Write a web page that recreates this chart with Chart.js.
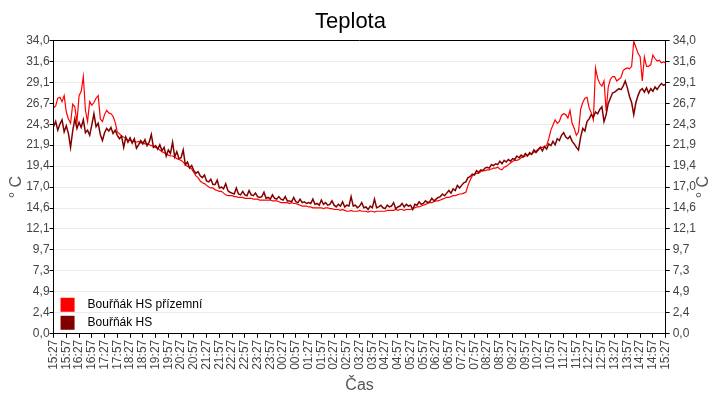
<!DOCTYPE html>
<html>
<head>
<meta charset="utf-8">
<script src="https://cdn.jsdelivr.net/npm/chart.js@4"></script>
<style>
  html, body { margin: 0; padding: 0; background: #fff; }
  canvas { display: block; }
</style>
</head>
<body>
<canvas id="tempChart" width="720" height="400"></canvas>
<script>
// sample every 5 minutes, starting 15:27
const SAMPLE_MIN = 5;

const xLabels = [
  "15:27", "15:57", "16:27", "16:57", "17:27", "17:57", "18:27", "18:57",
  "19:27", "19:57", "20:27", "20:57", "21:27", "21:57", "22:27", "22:57",
  "23:27", "23:57", "00:27", "00:57", "01:27", "01:57", "02:27", "02:57",
  "03:27", "03:57", "04:27", "04:57", "05:27", "05:57", "06:27", "06:57",
  "07:27", "07:57", "08:27", "08:57", "09:27", "09:57", "10:27", "10:57",
  "11:27", "11:57", "12:27", "12:57", "13:27", "13:57", "14:27", "14:57",
  "15:27",
];

const yLabels = [
  "0,0", "2,4", "4,9", "7,3", "9,7", "12,1", "14,6", "17,0",
  "19,4", "21,9", "24,3", "26,7", "29,1", "31,6", "34,0",
];
const Y_MAX = 34;

// Bouřňák HS přízemní
const groundTemp = [
  26.2, 26.4, 27.3, 27.4, 26.9, 27.6, 25.7, 24.9, 24.4, 26.6, 26.3, 24.5, // 15:27
  27.6, 28.1, 29.8, 25.9, 24.6, 26.9, 26.5, 26.8, 27.3, 27.6, 24.9, 24.6, // 16:27
  25.4, 25.9, 25.6, 25.5, 25.2, 24.5, 23.4, 23.2, 22.9, 22.8, 22.7, 22.4, // 17:27
  22.4, 22.3, 22.3, 22.2, 22.3, 22.1, 22.2, 22.0, 22.0, 21.9, 21.8, 21.7, // 18:27
  21.6, 21.5, 21.3, 21.1, 21.0, 20.8, 20.7, 20.6, 20.6, 20.5, 20.3, 20.2, // 19:27
  20.1, 19.9, 19.6, 19.4, 19.3, 19.1, 18.7, 18.3, 18.1, 17.7, 17.5, 17.4, // 20:27
  17.2, 17.0, 16.9, 16.9, 16.7, 16.6, 16.5, 16.5, 16.3, 16.1, 16.0, 16.0, // 21:27
  16.0, 15.9, 15.9, 15.8, 15.8, 15.8, 15.7, 15.7, 15.7, 15.7, 15.6, 15.6, // 22:27
  15.6, 15.5, 15.5, 15.5, 15.5, 15.5, 15.5, 15.4, 15.4, 15.4, 15.3, 15.2, // 23:27
  15.2, 15.2, 15.2, 15.1, 15.2, 15.1, 15.1, 15.0, 14.9, 14.8, 14.8, 14.8, // 00:27
  14.7, 14.7, 14.6, 14.6, 14.6, 14.6, 14.6, 14.5, 14.6, 14.6, 14.5, 14.5, // 01:27
  14.4, 14.4, 14.4, 14.3, 14.4, 14.3, 14.2, 14.2, 14.3, 14.2, 14.2, 14.2, // 02:27
  14.3, 14.2, 14.2, 14.2, 14.1, 14.2, 14.2, 14.1, 14.2, 14.2, 14.2, 14.2, // 03:27
  14.2, 14.3, 14.3, 14.3, 14.3, 14.4, 14.3, 14.4, 14.4, 14.3, 14.4, 14.4, // 04:27
  14.4, 14.5, 14.6, 14.7, 14.7, 14.8, 14.9, 15.0, 15.1, 15.2, 15.2, 15.3, // 05:27
  15.4, 15.4, 15.5, 15.6, 15.7, 15.8, 15.8, 15.9, 16.0, 16.0, 16.1, 16.2, // 06:27
  16.2, 16.3, 16.4, 17.2, 17.8, 18.3, 18.5, 18.6, 18.6, 18.8, 18.9, 18.9, // 07:27
  19.0, 19.0, 19.1, 19.2, 19.2, 19.3, 19.1, 19.0, 19.3, 19.4, 19.6, 19.8, // 08:27
  20.0, 20.1, 20.1, 20.2, 20.4, 20.5, 20.6, 20.7, 20.8, 20.9, 21.0, 21.2, // 09:27
  21.4, 21.6, 21.6, 21.7, 21.8, 22.6, 23.6, 24.2, 24.8, 24.4, 24.6, 25.3, // 10:27
  25.5, 25.4, 25.0, 25.9, 24.4, 23.8, 23.0, 23.4, 26.0, 26.8, 27.3, 27.4, // 11:27
  26.2, 25.6, 24.8, 30.8, 29.6, 29.0, 28.7, 29.3, 25.8, 28.6, 29.5, 29.8, // 12:27
  29.8, 29.3, 29.5, 29.7, 30.5, 30.7, 30.8, 30.7, 31.0, 33.9, 33.2, 32.5, // 13:27
  32.1, 29.3, 32.1, 31.0, 31.0, 31.2, 32.3, 31.9, 31.6, 31.7, 31.4, 31.5, // 14:27
  31.4,
];

// Bouřňák HS
const hsTemp = [
  24.0, 24.6, 23.6, 24.3, 24.8, 23.4, 24.1, 23.2, 21.6, 23.5, 24.9, 23.8, // 15:27
  24.5, 23.9, 24.8, 23.3, 23.6, 23.0, 24.2, 25.5, 24.0, 24.4, 23.1, 22.4, // 16:27
  23.3, 23.8, 23.5, 23.9, 23.2, 23.6, 23.0, 22.6, 22.9, 21.6, 22.8, 22.2, // 17:27
  22.7, 22.1, 22.6, 21.5, 21.9, 22.4, 22.0, 22.5, 21.8, 22.2, 23.1, 21.6, // 18:27
  21.8, 21.4, 21.9, 21.2, 21.6, 20.6, 21.3, 20.9, 22.2, 20.5, 21.1, 20.3, // 19:27
  20.4, 21.3, 19.6, 19.9, 19.2, 19.5, 18.9, 18.6, 18.8, 18.3, 18.1, 18.4, // 20:27
  17.7, 17.6, 17.9, 17.3, 17.3, 17.8, 16.9, 17.0, 16.8, 17.4, 16.6, 16.4, // 21:27
  16.3, 16.2, 16.9, 16.2, 16.1, 16.5, 16.1, 16.0, 16.6, 16.1, 16.0, 16.3, // 22:27
  15.9, 15.8, 15.9, 16.4, 15.7, 15.8, 15.6, 16.1, 15.7, 15.6, 15.9, 15.6, // 23:27
  15.5, 15.9, 15.4, 15.4, 15.3, 15.8, 15.3, 15.2, 15.6, 15.2, 15.3, 15.1, // 00:27
  15.2, 15.1, 15.6, 15.0, 15.1, 14.9, 15.5, 15.0, 15.2, 14.9, 15.0, 15.4, // 01:27
  14.9, 14.7, 15.0, 14.8, 15.3, 14.7, 14.9, 14.8, 15.9, 14.8, 14.9, 14.6, // 02:27
  14.8, 15.2, 14.6, 14.7, 14.4, 14.8, 14.6, 15.6, 14.6, 14.7, 14.9, 14.6, // 03:27
  14.5, 14.9, 14.7, 14.8, 15.2, 14.5, 14.7, 14.8, 15.1, 14.7, 15.0, 14.8, // 04:27
  14.9, 14.4, 15.0, 14.9, 15.3, 15.0, 15.1, 15.4, 15.2, 15.3, 15.7, 15.4, // 05:27
  15.6, 15.8, 15.9, 16.2, 16.0, 16.3, 16.6, 16.3, 16.8, 16.6, 17.2, 16.9, // 06:27
  17.2, 17.5, 17.6, 18.1, 18.2, 18.5, 18.4, 18.9, 18.7, 19.0, 18.9, 19.2, // 07:27
  19.3, 19.2, 19.6, 19.5, 19.7, 19.6, 20.0, 19.7, 20.1, 19.9, 20.2, 20.0, // 08:27
  20.3, 20.2, 20.6, 20.4, 20.7, 20.5, 20.9, 20.6, 21.0, 20.8, 21.3, 21.0, // 09:27
  21.3, 21.6, 21.2, 21.7, 21.4, 22.0, 21.8, 22.3, 21.9, 22.6, 22.4, 23.0, // 10:27
  23.3, 22.8, 22.6, 22.9, 22.3, 22.0, 21.6, 21.3, 22.8, 23.8, 23.5, 24.6, // 11:27
  24.9, 25.4, 25.1, 25.7, 25.5, 26.0, 26.3, 24.6, 25.4, 26.7, 27.3, 27.9, // 12:27
  28.0, 28.2, 28.4, 28.3, 28.7, 29.3, 28.5, 27.5, 26.8, 25.4, 26.8, 27.6, // 13:27
  28.2, 28.4, 28.0, 28.5, 27.9, 28.4, 28.1, 28.6, 28.3, 28.7, 29.0, 28.8, // 14:27
  28.9,
];

const FONT = "'Liberation Sans', Arial, sans-serif";
const toPoints = (arr) => arr.map((v, i) => ({ x: i * SAMPLE_MIN, y: v }));

// box round the plot, inline legend, right-hand axis title
const extras = {
  id: "extras",
  afterDraw(chart) {
    const { ctx, chartArea: a } = chart;
    ctx.save();
    ctx.strokeStyle = "#000";
    ctx.lineWidth = 1;
    ctx.beginPath();
    ctx.moveTo(a.left, Math.round(a.top) + 0.5);
    ctx.lineTo(a.right, Math.round(a.top) + 0.5);
    ctx.stroke();

    ctx.font = "12px " + FONT;
    ctx.textBaseline = "middle";
    ctx.textAlign = "left";
    chart.data.datasets.forEach((ds, i) => {
      const y = a.bottom - 36 + i * 18;
      ctx.fillStyle = ds.borderColor;
      ctx.fillRect(a.left + 7, y, 14, 14);
      ctx.fillStyle = "#000";
      ctx.fillText(ds.label, a.left + 34, y + 7);
    });

    ctx.translate(704, (a.top + a.bottom) / 2);
    ctx.rotate(-Math.PI / 2);
    ctx.textAlign = "center";
    ctx.font = "16px " + FONT;
    ctx.fillStyle = "#555";
    ctx.fillText("° C", 0, 0);
    ctx.restore();
  },
};

const yTicks = (scale) => {
  scale.ticks = yLabels.map((_, i) => ({ value: (i * Y_MAX) / (yLabels.length - 1) }));
};

const ctx = document.getElementById("tempChart");

new Chart(ctx, {
  type: "line",
  data: {
    datasets: [
      {
        label: "Bouřňák HS přízemní",
        data: toPoints(groundTemp),
        borderColor: "#ff0000",
        borderWidth: 1.2,
        order: 1,
      },
      {
        label: "Bouřňák HS",
        data: toPoints(hsTemp),
        borderColor: "#800000",
        borderWidth: 1.5,
        order: 0,
      },
    ],
  },
  options: {
    responsive: false,
    animation: false,
    events: [],
    elements: { point: { radius: 0 }, line: { tension: 0 } },
    layout: { padding: { left: 2, right: 21, bottom: 1 } },
    plugins: {
      legend: { display: false },
      tooltip: { enabled: false },
      title: {
        display: true,
        text: "Teplota",
        color: "#000",
        font: { family: FONT, size: 22, weight: "normal" },
        padding: { top: 9, bottom: 5 },
      },
    },
    scales: {
      x: {
        type: "linear",
        min: 0,
        max: 1440,
        afterBuildTicks: (scale) => {
          scale.ticks = xLabels.map((_, i) => ({ value: i * 30 }));
        },
        ticks: {
          autoSkip: false,
          minRotation: 90,
          maxRotation: 90,
          padding: 2,
          color: "#444",
          font: { family: FONT, size: 12 },
          callback: (v, i) => xLabels[i],
        },
        grid: { drawOnChartArea: false, tickLength: 4, tickColor: "#000" },
        border: { color: "#000", width: 1 },
        title: {
          display: true,
          text: "Čas",
          color: "#555",
          font: { family: FONT, size: 16 },
          padding: { top: 4, bottom: 4 },
        },
      },
      y: {
        position: "left",
        min: 0,
        max: Y_MAX,
        afterBuildTicks: yTicks,
        ticks: {
          padding: 0,
          color: "#444",
          font: { family: FONT, size: 12 },
          callback: (v, i) => yLabels[i],
        },
        grid: { color: "#ebebeb", tickLength: 4, tickColor: "#000" },
        border: { color: "#000", width: 1 },
        title: {
          display: true,
          text: "° C",
          color: "#555",
          font: { family: FONT, size: 16 },
          padding: { top: 5, bottom: 0 },
        },
      },
      y2: {
        position: "right",
        min: 0,
        max: Y_MAX,
        afterBuildTicks: yTicks,
        ticks: {
          padding: 3,
          color: "#444",
          font: { family: FONT, size: 12 },
          callback: (v, i) => yLabels[i],
        },
        grid: { drawOnChartArea: false, tickLength: 4, tickColor: "#000" },
        border: { color: "#000", width: 1 },
      },
    },
  },
  plugins: [extras],
});
</script>
</body>
</html>
